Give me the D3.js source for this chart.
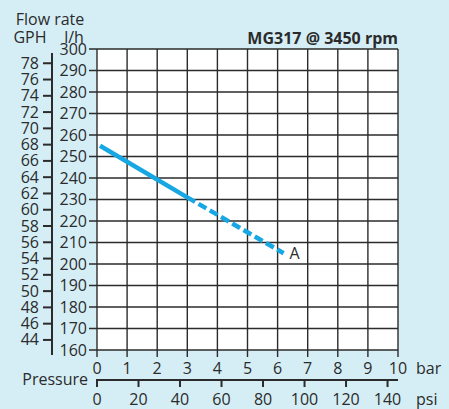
<!DOCTYPE html>
<html>
<head>
<meta charset="utf-8">
<script src="https://cdn.jsdelivr.net/npm/d3@7"></script>
<style>
  html, body { margin: 0; padding: 0; background: #d5eef6; }
  svg { display: block; font-family: "Open Sans", sans-serif; }
</style>
</head>
<body>
<div id="container"></div>
<script>
// Data
const flowTicks = [160, 170, 180, 190, 200, 210, 220, 230, 240, 250, 260, 270, 280, 290, 300];
const gphTicks = [44, 46, 48, 50, 52, 54, 56, 58, 60, 62, 64, 66, 68, 70, 72, 74, 76, 78];
const barTicks = [0, 1, 2, 3, 4, 5, 6, 7, 8, 9, 10];
const psiTicks = [0, 20, 40, 60, 80, 100, 120, 140];
const solidPressure = [0.1, 3.0];
const solidFlow = [255, 231];
const dashedPressure = [3.0, 6.2];
const dashedFlow = [231, 205];
const curveLabel = "A";
const title = "MG317 @ 3450 rpm";

const W = 449, H = 409;
const ink = "#2b2b2b";
const blue = "#17a8e4";
const fs = 16;

const svg = d3.select("#container").append("svg")
  .attr("width", W).attr("height", H);

svg.append("rect").attr("width", W).attr("height", H).attr("fill", "#d5eef6");

const x = d3.scaleLinear().domain([0, 10]).range([97, 398]);
const y = d3.scaleLinear().domain([160, 300]).range([350, 49]);
const psi = d3.scaleLinear().domain([0, 145.038]).range([97, 398]);
// GPH axis: 1 GPH = 3.785 l/h, drawn a few px lower as in the original
const gph = d3.scaleLinear().domain([44, 78])
  .range([y(44 * 3.785) + 4, y(78 * 3.785) + 4]);

// plot area
svg.append("rect")
  .attr("x", x(0)).attr("y", y(300))
  .attr("width", x(10) - x(0)).attr("height", y(160) - y(300))
  .attr("fill", "#fff");

const grid = svg.append("g").attr("stroke", ink).attr("stroke-width", 1.4);
grid.selectAll(".v").data(barTicks).enter().append("line")
  .attr("x1", d => x(d)).attr("x2", d => x(d))
  .attr("y1", y(300)).attr("y2", y(160) + 7);
grid.selectAll(".h").data(flowTicks).enter().append("line")
  .attr("x1", x(0) - 8).attr("x2", x(10))
  .attr("y1", d => y(d)).attr("y2", d => y(d));

// l/h labels
svg.append("g").selectAll("text").data(flowTicks).enter().append("text")
  .attr("x", x(0) - 10).attr("y", d => y(d) + 5.5)
  .attr("text-anchor", "end").attr("font-size", fs).attr("fill", ink)
  .text(d => d);

// GPH axis
svg.append("line")
  .attr("x1", 52).attr("x2", 52).attr("y1", 53).attr("y2", 355)
  .attr("stroke", ink).attr("stroke-width", 2);
svg.append("g").selectAll("line").data(gphTicks).enter().append("line")
  .attr("x1", 43).attr("x2", 52)
  .attr("y1", d => gph(d)).attr("y2", d => gph(d))
  .attr("stroke", ink).attr("stroke-width", 2);
svg.append("g").selectAll("text").data(gphTicks).enter().append("text")
  .attr("x", 39).attr("y", d => gph(d) + 5.5)
  .attr("text-anchor", "end").attr("font-size", fs).attr("fill", ink)
  .text(d => d);

// headers
svg.append("text").attr("x", 50).attr("y", 25).attr("text-anchor", "middle")
  .attr("font-size", fs).attr("fill", ink).text("Flow rate");
svg.append("text").attr("x", 30).attr("y", 43).attr("text-anchor", "middle")
  .attr("font-size", fs).attr("fill", ink).text("GPH");
svg.append("text").attr("x", 74).attr("y", 43).attr("text-anchor", "middle")
  .attr("font-size", fs).attr("fill", ink).text("l/h");
svg.append("text").attr("x", x(10)).attr("y", 44).attr("text-anchor", "end")
  .attr("font-size", fs).attr("font-weight", "bold").attr("fill", ink).text(title);

// bar labels
svg.append("g").selectAll("text").data(barTicks).enter().append("text")
  .attr("x", d => x(d)).attr("y", 374).attr("text-anchor", "middle")
  .attr("font-size", fs).attr("fill", ink).text(d => d);
svg.append("text").attr("x", 416).attr("y", 374)
  .attr("font-size", fs).attr("fill", ink).text("bar");

// psi axis
svg.append("line").attr("x1", x(0)).attr("x2", x(10)).attr("y1", 380).attr("y2", 380)
  .attr("stroke", ink).attr("stroke-width", 2);
svg.append("g").selectAll("line").data(psiTicks).enter().append("line")
  .attr("x1", d => psi(d)).attr("x2", d => psi(d)).attr("y1", 379).attr("y2", 387)
  .attr("stroke", ink).attr("stroke-width", 2);
svg.append("g").selectAll("text").data(psiTicks).enter().append("text")
  .attr("x", d => psi(d)).attr("y", 405).attr("text-anchor", "middle")
  .attr("font-size", fs).attr("fill", ink).text(d => d);
svg.append("text").attr("x", 416).attr("y", 405)
  .attr("font-size", fs).attr("fill", ink).text("psi");
svg.append("text").attr("x", 88).attr("y", 385).attr("text-anchor", "end")
  .attr("font-size", fs).attr("fill", ink).text("Pressure");

// curve
const line = d3.line().x(d => x(d[0])).y(d => y(d[1]));
svg.append("path")
  .attr("d", line(d3.zip(solidPressure, solidFlow)))
  .attr("fill", "none").attr("stroke", blue).attr("stroke-width", 4.5);
svg.append("path")
  .attr("d", line(d3.zip(dashedPressure, dashedFlow)))
  .attr("fill", "none").attr("stroke", blue).attr("stroke-width", 4.5)
  .attr("stroke-dasharray", "9,4");
svg.append("text")
  .attr("x", x(dashedPressure[1]) + 6).attr("y", y(dashedFlow[1]) + 6)
  .attr("font-size", fs).attr("fill", ink).text(curveLabel);
</script>
</body>
</html>
